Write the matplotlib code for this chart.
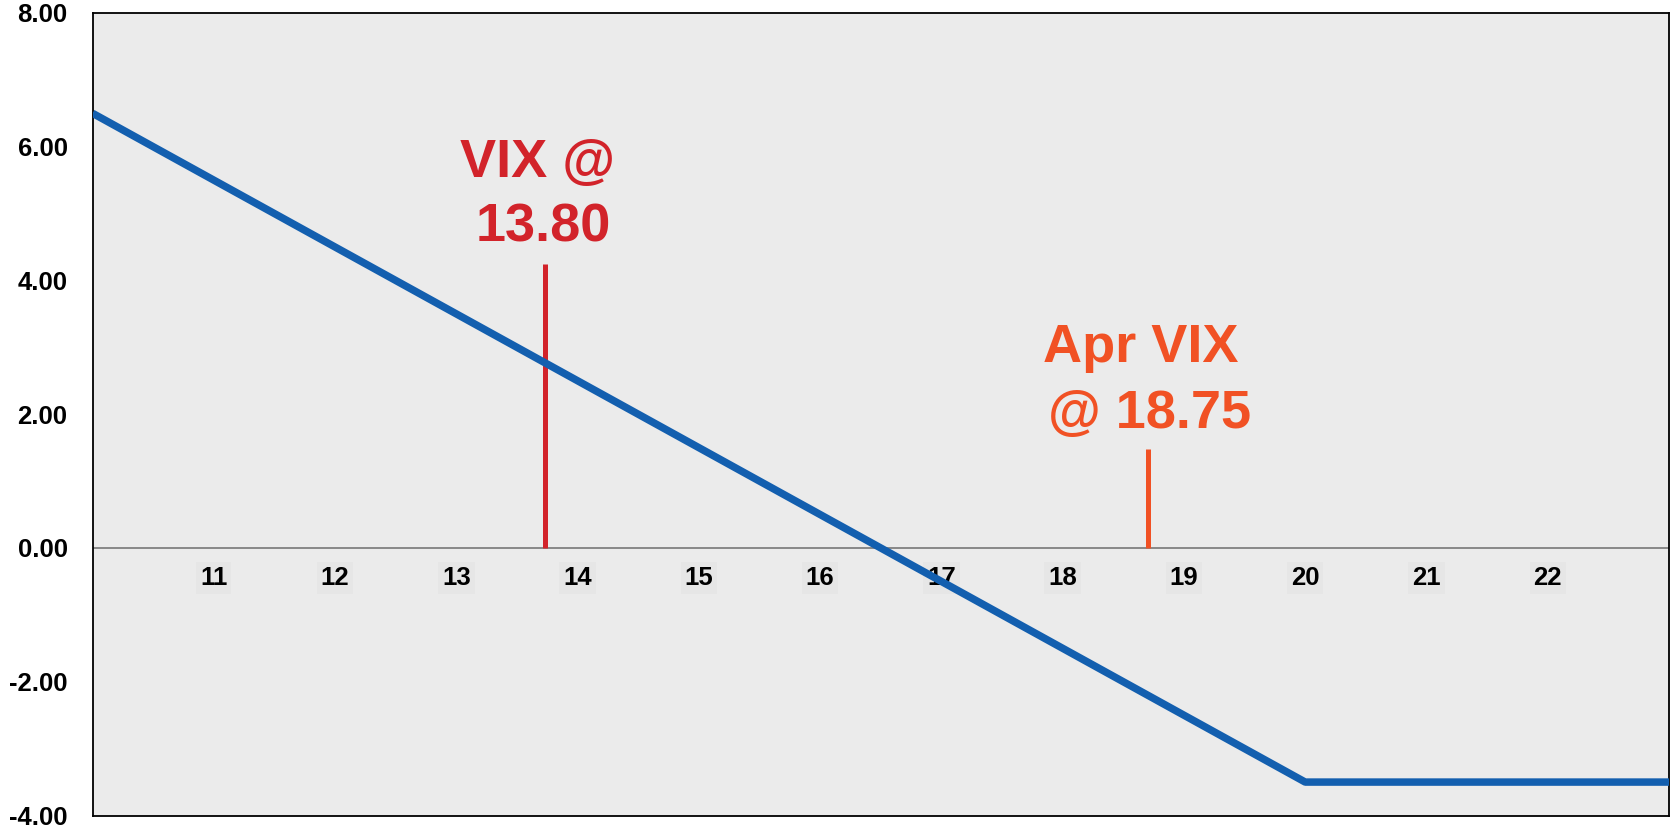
import matplotlib
matplotlib.use("Agg")
import matplotlib.pyplot as plt

plt.rcParams['font.family'] = ['Liberation Sans', 'DejaVu Sans']

# Data
vix_levels = [10, 20, 23]
pnl = [6.5, -3.5, -3.5]
x_ticks = [11, 12, 13, 14, 15, 16, 17, 18, 19, 20, 21, 22]
y_ticks = [-4, -2, 0, 2, 4, 6, 8]
spot_vix = 13.73
spot_marker_top = 4.25
apr_vix = 18.70
apr_marker_top = 1.48

blue = '#135FAF'
red = '#D2232A'
orange = '#F15124'

fig = plt.figure(figsize=(16.71, 8.36), dpi=100)
ax = fig.add_axes([0.0554, 0.0245, 0.9434, 0.96])
ax.set_facecolor('#EBEBEB')

ax.set_xlim(10, 23)
ax.set_ylim(-4, 8)

ax.axhline(0, color='#808080', lw=1.3, zorder=1)
ax.plot(vix_levels, pnl, color=blue, lw=5.4, solid_capstyle='butt', zorder=3)

ax.vlines(spot_vix, 0, spot_marker_top, color=red, lw=3.6, zorder=2)
ax.vlines(apr_vix, 0, apr_marker_top, color=orange, lw=3.6, zorder=2)

tf = dict(fontsize=39, fontweight='bold', ha='center', va='baseline')
ax.text(spot_vix - 0.06, 5.55, 'VIX @', color=red, **tf)
ax.text(spot_vix - 0.01, 4.58, '13.80', color=red, **tf)
ax.text(apr_vix - 0.06, 2.78, 'Apr VIX', color=orange, **tf)
ax.text(apr_vix + 0.02, 1.80, '@ 18.75', color=orange, **tf)

ax.set_xticks([])
for xv in x_ticks:
    ax.text(xv, -0.45, str(xv), fontsize=18.5, fontweight='bold', ha='center', va='center',
            bbox=dict(boxstyle='square,pad=0.15', facecolor='#E6E6E6', edgecolor='none'), zorder=2)

ax.set_yticks(y_ticks)
ax.set_yticklabels([f'{v:.2f}' for v in y_ticks], fontsize=18.5, fontweight='bold')
ax.tick_params(axis='y', length=0, pad=18)

for s in ax.spines.values():
    s.set_color('black')
    s.set_linewidth(1.3)

fig.savefig('out.png', dpi=100)
